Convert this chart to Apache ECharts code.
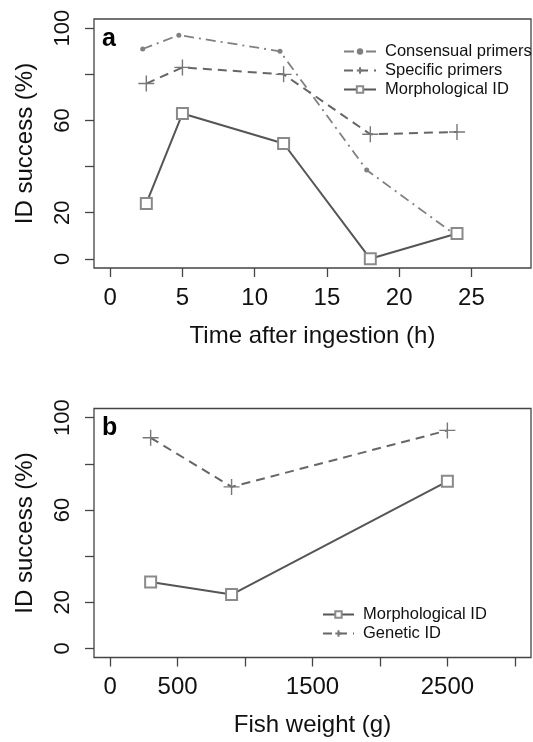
<!DOCTYPE html>
<html>
<head>
<meta charset="utf-8">
<script src="https://cdn.jsdelivr.net/npm/echarts@6/dist/echarts.min.js"></script>
<style>
  * { margin: 0; padding: 0; }
  body { background: #fff; }
</style>
</head>
<body>
<div id="main" style="width: 533px; height: 742px;"></div>
<script>
  // panel a: time after ingestion
  var timeH = [2.5, 5, 12, 18, 24]
  var consensualX = [2.25, 4.75, 11.75, 17.75, 23.75]  // drawn slightly left in the original
  var consensualPct = [91, 97, 90, 38.5, 11]
  var specificPct = [76, 83, 80, 54, 55]
  var morphTimePct = [24, 63, 50, 0, 11]

  // panel b: fish weight
  var fishWeight = [300, 900, 2500]
  var morphWeightPct = [28.7, 23.3, 72.4]
  var geneticPct = [91.3, 70, 94.5]

  var timeTicks = [0, 5, 10, 15, 20, 25]
  var weightTicks = [0, 500, 1000, 1500, 2000, 2500, 3000]
  var weightTickLabels = [0, 500, 1500, 2500]
  var pctTicks = [0, 20, 40, 60, 80, 100]
  var pctTickLabels = [0, 20, 60, 100]

  var FONT = 'Liberation Sans, Arial, sans-serif'
  var AXIS = '#444'
  var PLUS = 'path://M0,10L20,10M10,0L10,20'

  function pairs(xs, ys) {
    return xs.map(function (x, i) { return [x, ys[i]] })
  }

  function plain(v) { return String(v) }

  function yAxis(idx) {
    return {
      type: 'value', gridIndex: idx, min: -4, max: 104,
      name: 'ID success (%)', nameLocation: 'middle', nameGap: 57,
      nameTextStyle: { fontSize: 24, fontFamily: FONT, color: '#111' },
      axisLine: { show: false, onZero: false },
      splitLine: { show: false },
      axisTick: { show: true, length: 9, customValues: pctTicks, lineStyle: { color: AXIS, width: 1.3 } },
      axisLabel: { customValues: pctTickLabels, rotate: 90, margin: 20, fontSize: 22, fontFamily: FONT, color: '#111', formatter: plain }
    }
  }

  function xAxis(idx, min, max, ticks, labels, name) {
    return {
      type: 'value', gridIndex: idx, min: min, max: max,
      name: name, nameLocation: 'middle', nameGap: 56,
      nameTextStyle: { fontSize: 24, fontFamily: FONT, color: '#111' },
      axisLine: { show: false, onZero: false },
      splitLine: { show: false },
      axisTick: { show: true, length: 9, customValues: ticks, lineStyle: { color: AXIS, width: 1.3 } },
      axisLabel: { customValues: labels, margin: 18, fontSize: 24, fontFamily: FONT, color: '#111', formatter: plain }
    }
  }

  var chart = echarts.init(document.getElementById('main'))
  chart.setOption({
    animation: false,
    backgroundColor: '#fff',
    grid: [
      { left: 94, top: 19, width: 437, height: 249, show: true, borderColor: AXIS, borderWidth: 1.3 },
      { left: 94, top: 408.5, width: 437, height: 249, show: true, borderColor: AXIS, borderWidth: 1.3 }
    ],
    xAxis: [
      xAxis(0, -1.12, 29.12, timeTicks, timeTicks, 'Time after ingestion (h)'),
      xAxis(1, -120, 3120, weightTicks, weightTickLabels, 'Fish weight (g)')
    ],
    yAxis: [yAxis(0), yAxis(1)],
    legend: [
      {
        orient: 'vertical', left: 338, top: 38, itemWidth: 32, itemHeight: 8, itemGap: 2,
        textStyle: { fontSize: 16.5, fontFamily: FONT, color: '#111', padding: [0, 0, 0, 4] },
        data: ['Consensual primers', 'Specific primers', 'Morphological ID']
      },
      {
        orient: 'vertical', left: 317, top: 601, itemWidth: 31, itemHeight: 8, itemGap: 2,
        textStyle: { fontSize: 16.5, fontFamily: FONT, color: '#111', padding: [0, 0, 0, 4] },
        data: ['Morphological ID ', 'Genetic ID']
      }
    ],
    graphic: [
      { type: 'text', left: 102, top: 27, style: { text: 'a', font: 'bold 25px ' + FONT, fill: '#000' } },
      { type: 'text', left: 102, top: 416, style: { text: 'b', font: 'bold 25px ' + FONT, fill: '#000' } }
    ],
    series: [
      {
        name: 'Consensual primers', type: 'line', xAxisIndex: 0, yAxisIndex: 0,
        data: pairs(consensualX, consensualPct),
        symbol: 'circle', symbolSize: 5,
        itemStyle: { color: '#808080' },
        lineStyle: { color: '#808080', width: 1.8, type: [10, 5, 2, 5] }
      },
      {
        name: 'Specific primers', type: 'line', xAxisIndex: 0, yAxisIndex: 0,
        data: pairs(timeH, specificPct),
        symbol: PLUS, symbolSize: 16,
        itemStyle: { color: 'none', borderColor: '#777', borderWidth: 1.4 },
        lineStyle: { color: '#666', width: 2, type: [9, 6] }
      },
      {
        name: 'Morphological ID', type: 'line', xAxisIndex: 0, yAxisIndex: 0,
        data: pairs(timeH, morphTimePct),
        symbol: 'emptyRect', symbolSize: 11,
        itemStyle: { color: '#8a8a8a', borderWidth: 1.4 },
        lineStyle: { color: '#555', width: 2 }
      },
      {
        name: 'Morphological ID ', type: 'line', xAxisIndex: 1, yAxisIndex: 1,
        data: pairs(fishWeight, morphWeightPct),
        symbol: 'emptyRect', symbolSize: 11,
        itemStyle: { color: '#8a8a8a', borderWidth: 1.4 },
        lineStyle: { color: '#555', width: 2 }
      },
      {
        name: 'Genetic ID', type: 'line', xAxisIndex: 1, yAxisIndex: 1,
        data: pairs(fishWeight, geneticPct),
        symbol: PLUS, symbolSize: 16,
        itemStyle: { color: 'none', borderColor: '#777', borderWidth: 1.4 },
        lineStyle: { color: '#666', width: 2, type: [9, 6] }
      }
    ]
  })
</script>
</body>
</html>
